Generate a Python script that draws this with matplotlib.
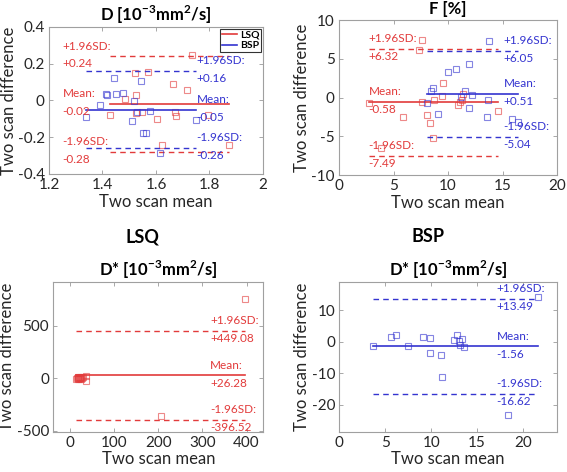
import numpy as np
import matplotlib
matplotlib.use("Agg")
import matplotlib.pyplot as plt

plt.rcParams['font.family'] = ['Lato', 'DejaVu Sans']
plt.rcParams['mathtext.fontset'] = 'custom'
plt.rcParams['mathtext.rm'] = 'Lato'
plt.rcParams['mathtext.bf'] = 'Lato:bold'

RED = '#e23b3b'
BLUE = '#3434d0'

# D panel (two scan mean, two scan difference)
d_lsq_x = [1.733, 1.520, 1.570, 1.664, 1.715, 1.526, 1.484, 1.427, 1.524, 1.546,
           1.602, 1.670, 1.675, 1.796, 1.624, 1.873]
d_lsq_y = [0.246, 0.150, 0.157, 0.088, 0.057, 0.030, 0.008, -0.081, -0.068, -0.063,
           -0.101, -0.063, -0.083, -0.081, -0.242, -0.242]
d_bsp_x = [1.443, 1.544, 1.414, 1.418, 1.449, 1.477, 1.518, 1.391, 1.337, 1.509,
           1.529, 1.578, 1.748, 1.553, 1.561, 1.615]
d_bsp_y = [0.124, 0.104, 0.037, 0.032, 0.037, 0.041, -0.003, -0.026, -0.090, -0.110,
           -0.063, -0.057, -0.105, -0.177, -0.177, -0.284]
d_lsq_stats = [-0.02, 0.24, -0.28]   # mean, +1.96SD, -1.96SD
d_bsp_stats = [-0.05, 0.16, -0.26]

# F panel
f_lsq_x = [7.58, 7.34, 9.57, 9.42, 8.72, 7.65, 2.75, 5.90, 8.10, 8.32, 8.65, 3.82,
           11.41, 11.10, 10.90, 14.60, 11.30]
f_lsq_y = [7.42, 6.13, 1.83, 0.19, -0.32, -0.54, -0.75, -2.47, -2.30, -3.25, -5.27,
           -6.56, 0.45, -0.60, -0.97, -1.70, -0.30]
f_bsp_x = [13.80, 11.96, 10.70, 10.03, 8.60, 8.41, 11.56, 12.17, 11.16, 13.70, 11.96,
           9.11, 13.55, 8.04, 15.85, 16.40]
f_bsp_y = [7.30, 4.28, 3.68, 3.25, 1.27, 0.88, 0.88, 0.32, 0.11, -0.32, -1.40,
           -2.17, -2.47, -0.75, -2.80, -3.10]
f_lsq_stats = [-0.58, 6.32, -7.49]
f_bsp_stats = [0.51, 6.05, -5.04]

# D* panels
ds_lsq_x = [396, 205, 13.6, 15, 17, 18, 19, 20, 21, 22, 23, 24, 25, 27, 30, 35, 36]
ds_lsq_y = [755, -362, -5, 3, 8, -10, 5, 12, -8, 2, 6, 10, -3, 4, 15, -30, 25]
ds_lsq_stats = [26.28, 449.08, -396.52]
ds_bsp_x = [3.62, 5.62, 6.16, 7.43, 9.06, 9.89, 9.86, 11.12, 11.23, 12.86, 12.50,
            13.04, 13.40, 13.10, 13.60, 21.60, 18.40]
ds_bsp_y = [-1.47, 1.49, 2.23, -1.36, 1.49, 1.28, -3.48, -4.12, -11.20, 2.00, 0.43,
            0.10, 0.74, -0.95, -1.80, 14.10, -23.40]
ds_bsp_stats = [-1.56, 13.49, -16.62]

d_title = r'D [10$^{\mathbf{-3}}$mm$^{\mathbf{2}}$/s]'
ds_title = r'D* [10$^{\mathbf{-3}}$mm$^{\mathbf{2}}$/s]'


def fmt(v):
    return '%+.2f' % v


def bland(ax, x, y, stats, color, label_x):
    x = np.asarray(x)
    ax.plot(x, y, 's', ms=4.3, mfc='none', mec=color, mew=0.8, alpha=0.6)
    x0, x1 = x.min(), x.max()
    m, hi, lo = stats
    ax.plot([x0, x1], [m, m], '-', color=color, lw=1.2)
    ax.plot([x0, x1], [hi, hi], '--', color=color, lw=1.0, dashes=(4, 3))
    ax.plot([x0, x1], [lo, lo], '--', color=color, lw=1.0, dashes=(4, 3))
    for val, head in [(m, 'Mean:'), (hi, '+1.96SD:'), (lo, '-1.96SD:')]:
        ax.annotate(head, (label_x, val), xytext=(0, 3.5), textcoords='offset points',
                    ha='left', va='bottom', color=color, fontsize=8.5)
        ax.annotate(fmt(val), (label_x, val), xytext=(0, -1.5), textcoords='offset points',
                    ha='left', va='top', color=color, fontsize=8.5)


def style(ax, xlim, ylim, xt, yt, title, ylab_x):
    ax.set_xlim(xlim)
    ax.set_ylim(ylim)
    ax.set_xticks(xt)
    ax.set_xticklabels([('%g' % t) for t in xt])
    ax.set_yticks(yt)
    ax.set_yticklabels([('%g' % t) for t in yt])
    ax.tick_params(direction='in', top=True, right=True, length=3, width=0.6,
                   labelsize=11, colors='#9a9a9a', labelcolor='#262626', pad=3)
    for s in ax.spines.values():
        s.set_color('#a0a0a0')
        s.set_linewidth(0.8)
    ax.set_xlabel('Two scan mean', fontsize=12, color='#262626', labelpad=1)
    ax.set_ylabel('Two scan difference', fontsize=12, color='#262626')
    ax.yaxis.set_label_coords(ylab_x, 0.5)
    ax.set_title(title, fontsize=12, fontweight='bold', pad=4)


fig = plt.figure(figsize=(5.67, 4.72), dpi=100)

ax1 = fig.add_axes([0.0864, 0.6314, 0.3774, 0.3114])
bland(ax1, d_lsq_x, d_lsq_y, d_lsq_stats, RED, 1.251)
bland(ax1, d_bsp_x, d_bsp_y, d_bsp_stats, BLUE, 1.752)
style(ax1, (1.2, 2), (-0.4, 0.4), [1.2, 1.4, 1.6, 1.8, 2], [-0.4, -0.2, 0, 0.2, 0.4],
      d_title, -0.148)
h1, = ax1.plot([], [], '-', color=RED, lw=1.2)
h2, = ax1.plot([], [], '-', color=BLUE, lw=1.2)
leg = ax1.legend([h1, h2], ['LSQ', 'BSP'], loc='upper right', fontsize=7.5, frameon=True,
                 fancybox=False, edgecolor='black', handlelength=1.4, handletextpad=0.3,
                 borderpad=0.2, labelspacing=0.1, borderaxespad=0.15)
leg.get_frame().set_linewidth(0.8)
for t in leg.get_texts():
    t.set_fontweight('bold')

ax2 = fig.add_axes([0.5979, 0.6292, 0.3845, 0.3284])
bland(ax2, f_lsq_x, f_lsq_y, f_lsq_stats, RED, 2.7)
bland(ax2, f_bsp_x, f_bsp_y, f_bsp_stats, BLUE, 15.1)
style(ax2, (0, 20), (-10, 10), [0, 5, 10, 15, 20], [-10, -5, 0, 5, 10], 'F [%]', -0.135)

ax3 = fig.add_axes([0.0940, 0.0854, 0.3704, 0.3178])
bland(ax3, ds_lsq_x, ds_lsq_y, ds_lsq_stats, RED, 317)
style(ax3, (-38, 438), (-510, 920), [0, 100, 200, 300, 400], [-500, 0, 500], ds_title, -0.18)

ax4 = fig.add_axes([0.5984, 0.0854, 0.3840, 0.3178])
bland(ax4, ds_bsp_x, ds_bsp_y, ds_bsp_stats, BLUE, 17.1)
style(ax4, (0, 23.7), (-28.6, 19), [0, 5, 10, 15, 20], [-20, -10, 0, 10], ds_title, -0.133)

fig.text(0.252, 0.498, 'LSQ', ha='center', va='center', fontsize=13, fontweight='bold')
fig.text(0.755, 0.498, 'BSP', ha='center', va='center', fontsize=13, fontweight='bold')

fig.savefig('out.png', dpi=100)
